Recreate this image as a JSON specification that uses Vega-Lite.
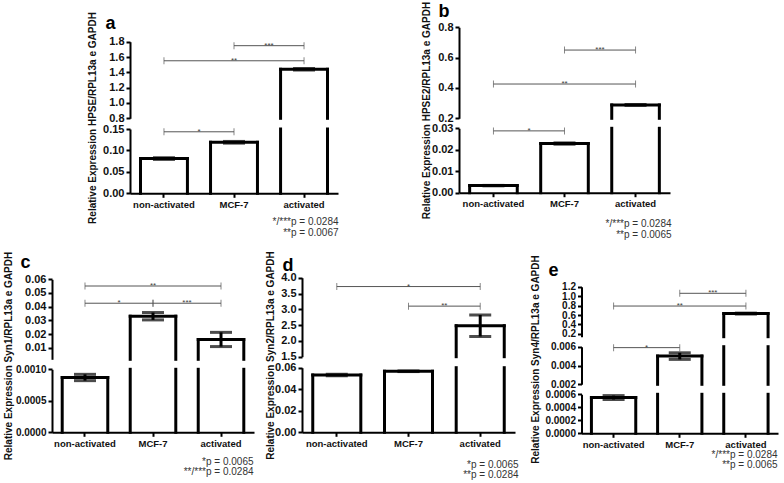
{
"$schema":"https://vega.github.io/schema/vega-lite/v6.json",
"width":784,"height":483,"autosize":{"type":"none"},"padding":0,"background":"white",
"config":{"font":"Liberation Sans","view":{"stroke":null},
 "axis":{"domainColor":"black","domainWidth":2,"tickColor":"black","tickWidth":2,"tickSize":4,"labelColor":"#111","labelFontWeight":"bold","labelFontSize":11,"labelPadding":2,"grid":false,"labelOverlap":false,"labelFlush":false,"titleColor":"#111","titleFontWeight":"bold","titleFontSize":10},
 "axisX":{"labelAngle":0,"labelFontSize":9.5,"titleFontWeight":"normal","titleFontSize":10,"titleColor":"#333"}},
"datasets":{
 "bars":[
  {"panel":"a","group":"non-activated","v":0.081,"err":0.002},
  {"panel":"a","group":"MCF-7","v":0.119,"err":0.002},
  {"panel":"a","group":"activated","v":1.44,"err":0.01},
  {"panel":"b","group":"non-activated","v":0.0033,"err":0.0001},
  {"panel":"b","group":"MCF-7","v":0.0229,"err":0.0003},
  {"panel":"b","group":"activated","v":0.288,"err":0.003},
  {"panel":"c","group":"non-activated","v":0.00087,"err":0.00005},
  {"panel":"c","group":"MCF-7","v":0.033,"err":0.0027},
  {"panel":"c","group":"activated","v":0.016,"err":0.0052},
  {"panel":"d","group":"non-activated","v":0.0532,"err":0.0007},
  {"panel":"d","group":"MCF-7","v":0.0567,"err":0.0003},
  {"panel":"d","group":"activated","v":2.48,"err":0.34},
  {"panel":"e","group":"non-activated","v":0.00055,"err":0.00003},
  {"panel":"e","group":"MCF-7","v":0.005,"err":0.00035},
  {"panel":"e","group":"activated","v":0.63,"err":0.01}
 ],
 "brackets":[
  {"panel":"a","from":"non-activated","to":"MCF-7","y":0.1435,"label":"*"},
  {"panel":"a","from":"non-activated","to":"activated","y":1.551,"label":"**"},
  {"panel":"a","from":"MCF-7","to":"activated","y":1.748,"label":"***"},
  {"panel":"b","from":"non-activated","to":"MCF-7","y":0.0288,"label":"*"},
  {"panel":"b","from":"non-activated","to":"activated","y":0.426,"label":"**"},
  {"panel":"b","from":"MCF-7","to":"activated","y":0.65,"label":"***"},
  {"panel":"c","from":"non-activated","to":"activated","y":0.0551,"label":"**"},
  {"panel":"c","from":"non-activated","to":"MCF-7","y":0.0425,"label":"*"},
  {"panel":"c","from":"MCF-7","to":"activated","y":0.0425,"label":"***"},
  {"panel":"d","from":"non-activated","to":"activated","y":3.72,"label":"*"},
  {"panel":"d","from":"MCF-7","to":"activated","y":3.1,"label":"**"},
  {"panel":"e","from":"MCF-7","to":"activated","y":1.06,"label":"***"},
  {"panel":"e","from":"non-activated","to":"activated","y":0.79,"label":"**"},
  {"panel":"e","from":"non-activated","to":"MCF-7","y":0.0059,"label":"*"}
 ]
},
"resolve":{"scale":{"x":"independent","y":"independent"}},
"layer":[
 {"layer":[
  {"data":{"name":"bars"},"transform":[{"filter":"datum.panel=='a' && datum.v>0.8"}],"mark":{"type":"rule","strokeWidth":3,"color":"black","strokeCap":"square"},
   "encoding":{"x":{"field":"group","type":"nominal","bandPosition":0,"scale":{"type":"band","domain":["non-activated","MCF-7","activated"],"range":[130,338],"paddingInner":0.33,"paddingOuter":0.15},"axis":null},
    "y":{"field":"v","type":"quantitative","scale":{"domain":[0.8,1.8],"range":[118.3,41.7],"clamp":true,"zero":false,"nice":false},
     "axis":{"orient":"left","offset":-130,"values":[0.8,1,1.2,1.4,1.6,1.8],"format":".1f","title":"a","titleAngle":0,"titleAlign":"left","titleBaseline":"alphabetic","titleFontSize":18,"titleColor":"black","titleX":-25,"titleY":28.3}},
    "y2":{"datum":0}}},
  {"data":{"name":"bars"},"transform":[{"filter":"datum.panel=='a' && datum.v>0.8"}],"mark":{"type":"rule","strokeWidth":3,"color":"black","strokeCap":"square"},
   "encoding":{"x":{"field":"group","type":"nominal","bandPosition":1,"scale":{"type":"band"},"axis":null},"y":{"field":"v","type":"quantitative"},"y2":{"datum":0}}},
  {"data":{"name":"bars"},"transform":[{"filter":"datum.panel=='a' && datum.v>=0.8 && datum.v<=1.8"}],"mark":{"type":"rule","strokeWidth":3,"color":"black","strokeCap":"square"},
   "encoding":{"x":{"field":"group","type":"nominal","bandPosition":0,"scale":{"type":"band"},"axis":null},"x2":{"field":"group","bandPosition":1},"y":{"field":"v","type":"quantitative"}}},
  {"data":{"name":"bars"},"transform":[{"filter":"datum.panel=='a' && datum.v>=0.8 && datum.v<=1.8"}],"mark":{"type":"errorbar","thickness":3,"color":"black","ticks":{"size":22,"thickness":3,"color":"black"}},
   "encoding":{"x":{"field":"group","type":"nominal","scale":{"type":"band"},"axis":null},"y":{"field":"v","type":"quantitative","title":"a"},"yError":{"field":"err"}}},
  {"data":{"name":"brackets"},"transform":[{"filter":"datum.panel=='a' && datum.y>=0.8"}],"mark":{"type":"rule","color":"#555","strokeWidth":1},
   "encoding":{"x":{"field":"from","type":"nominal","bandPosition":0.5,"scale":{"type":"band"},"axis":null},"x2":{"field":"to","bandPosition":0.5},"y":{"field":"y","type":"quantitative"}}},
  {"data":{"name":"brackets"},"transform":[{"filter":"datum.panel=='a' && datum.y>=0.8"},{"fold":["from","to"],"as":["end","cat"]}],"mark":{"type":"tick","orient":"vertical","size":7,"thickness":1,"color":"#555"},
   "encoding":{"x":{"field":"cat","type":"nominal","bandPosition":0.5,"scale":{"type":"band"},"axis":null},"y":{"field":"y","type":"quantitative"}}},
  {"data":{"name":"brackets"},"transform":[{"filter":"datum.panel=='a' && datum.y>=0.8 && !(datum.from=='non-activated' && datum.to=='activated')"}],"mark":{"type":"text","fontSize":8,"color":"#444","baseline":"alphabetic","dy":2},
   "encoding":{"x":{"field":"from","type":"nominal","bandPosition":1.246,"scale":{"type":"band"},"axis":null},"y":{"field":"y","type":"quantitative"},"text":{"field":"label"}}},
  {"data":{"name":"brackets"},"transform":[{"filter":"datum.panel=='a' && datum.y>=0.8 && datum.from=='non-activated' && datum.to=='activated'"}],"mark":{"type":"text","fontSize":8,"color":"#444","baseline":"alphabetic","dy":2},
   "encoding":{"x":{"field":"from","type":"nominal","bandPosition":1.993,"scale":{"type":"band"},"axis":null},"y":{"field":"y","type":"quantitative"},"text":{"field":"label"}}}
 ]},
 {"layer":[
  {"data":{"name":"bars"},"transform":[{"filter":"datum.panel=='a'"}],"mark":{"type":"rule","strokeWidth":3,"color":"black","strokeCap":"square"},
   "encoding":{"x":{"field":"group","type":"nominal","bandPosition":0,"scale":{"type":"band","domain":["non-activated","MCF-7","activated"],"range":[130,338],"paddingInner":0.33,"paddingOuter":0.15},
     "axis":{"orient":"bottom","offset":-289.7,"title":["*/***p = 0.0284","**p = 0.0067"],"titleX":338,"titleY":23,"titleAlign":"right","titleBaseline":"top","titleLineHeight":11}},
    "y":{"field":"v","type":"quantitative","scale":{"domain":[0,0.15],"range":[193.3,129],"clamp":true,"zero":false,"nice":false},
     "axis":{"orient":"left","offset":-130,"values":[0,0.05,0.1,0.15],"format":".2f","title":"Relative Expression HPSE/RPL13a e GAPDH","titleAngle":270,"titleAlign":"center","titleBaseline":"middle","titleX":-38,"titleY":117.5}},
    "y2":{"datum":0}}},
  {"data":{"name":"bars"},"transform":[{"filter":"datum.panel=='a'"}],"mark":{"type":"rule","strokeWidth":3,"color":"black","strokeCap":"square"},
   "encoding":{"x":{"field":"group","type":"nominal","bandPosition":1,"scale":{"type":"band"}},"y":{"field":"v","type":"quantitative"},"y2":{"datum":0}}},
  {"data":{"name":"bars"},"transform":[{"filter":"datum.panel=='a' && datum.v<=0.15"}],"mark":{"type":"rule","strokeWidth":3,"color":"black","strokeCap":"square"},
   "encoding":{"x":{"field":"group","type":"nominal","bandPosition":0,"scale":{"type":"band"}},"x2":{"field":"group","bandPosition":1},"y":{"field":"v","type":"quantitative"}}},
  {"data":{"name":"bars"},"transform":[{"filter":"datum.panel=='a' && datum.v<=0.15"}],"mark":{"type":"errorbar","thickness":3,"color":"black","ticks":{"size":22,"thickness":3,"color":"black"}},
   "encoding":{"x":{"field":"group","type":"nominal","scale":{"type":"band"}},"y":{"field":"v","type":"quantitative","title":"Relative Expression HPSE/RPL13a e GAPDH"},"yError":{"field":"err"}}},
  {"data":{"name":"brackets"},"transform":[{"filter":"datum.panel=='a' && datum.y<=0.15"}],"mark":{"type":"rule","color":"#555","strokeWidth":1},
   "encoding":{"x":{"field":"from","type":"nominal","bandPosition":0.5,"scale":{"type":"band"}},"x2":{"field":"to","bandPosition":0.5},"y":{"field":"y","type":"quantitative"}}},
  {"data":{"name":"brackets"},"transform":[{"filter":"datum.panel=='a' && datum.y<=0.15"},{"fold":["from","to"],"as":["end","cat"]}],"mark":{"type":"tick","orient":"vertical","size":7,"thickness":1,"color":"#555"},
   "encoding":{"x":{"field":"cat","type":"nominal","bandPosition":0.5,"scale":{"type":"band"}},"y":{"field":"y","type":"quantitative"}}},
  {"data":{"name":"brackets"},"transform":[{"filter":"datum.panel=='a' && datum.y<=0.15"}],"mark":{"type":"text","fontSize":8,"color":"#444","baseline":"alphabetic","dy":2},
   "encoding":{"x":{"field":"from","type":"nominal","bandPosition":1.246,"scale":{"type":"band"}},"y":{"field":"y","type":"quantitative"},"text":{"field":"label"}}}
 ]},
 {"layer":[
  {"data":{"name":"bars"},"transform":[{"filter":"datum.panel=='b' && datum.v>0.2"}],"mark":{"type":"rule","strokeWidth":3,"color":"black","strokeCap":"square"},
   "encoding":{"x":{"field":"group","type":"nominal","bandPosition":0,"scale":{"type":"band","domain":["non-activated","MCF-7","activated"],"range":[459,670],"paddingInner":0.33,"paddingOuter":0.15},"axis":null},
    "y":{"field":"v","type":"quantitative","scale":{"domain":[0.2,0.8],"range":[118.3,27.3],"clamp":true,"zero":false,"nice":false},
     "axis":{"orient":"left","offset":-459,"values":[0.2,0.4,0.6,0.8],"format":".1f","title":"b","titleAngle":0,"titleAlign":"left","titleBaseline":"alphabetic","titleFontSize":18,"titleColor":"black","titleX":-21,"titleY":16.7}},
    "y2":{"datum":0}}},
  {"data":{"name":"bars"},"transform":[{"filter":"datum.panel=='b' && datum.v>0.2"}],"mark":{"type":"rule","strokeWidth":3,"color":"black","strokeCap":"square"},
   "encoding":{"x":{"field":"group","type":"nominal","bandPosition":1,"scale":{"type":"band"},"axis":null},"y":{"field":"v","type":"quantitative"},"y2":{"datum":0}}},
  {"data":{"name":"bars"},"transform":[{"filter":"datum.panel=='b' && datum.v>=0.2 && datum.v<=0.8"}],"mark":{"type":"rule","strokeWidth":3,"color":"black","strokeCap":"square"},
   "encoding":{"x":{"field":"group","type":"nominal","bandPosition":0,"scale":{"type":"band"},"axis":null},"x2":{"field":"group","bandPosition":1},"y":{"field":"v","type":"quantitative"}}},
  {"data":{"name":"bars"},"transform":[{"filter":"datum.panel=='b' && datum.v>=0.2 && datum.v<=0.8"}],"mark":{"type":"errorbar","thickness":3,"color":"black","ticks":{"size":22,"thickness":3,"color":"black"}},
   "encoding":{"x":{"field":"group","type":"nominal","scale":{"type":"band"},"axis":null},"y":{"field":"v","type":"quantitative","title":"b"},"yError":{"field":"err"}}},
  {"data":{"name":"brackets"},"transform":[{"filter":"datum.panel=='b' && datum.y>=0.2"}],"mark":{"type":"rule","color":"#555","strokeWidth":1},
   "encoding":{"x":{"field":"from","type":"nominal","bandPosition":0.5,"scale":{"type":"band"},"axis":null},"x2":{"field":"to","bandPosition":0.5},"y":{"field":"y","type":"quantitative"}}},
  {"data":{"name":"brackets"},"transform":[{"filter":"datum.panel=='b' && datum.y>=0.2"},{"fold":["from","to"],"as":["end","cat"]}],"mark":{"type":"tick","orient":"vertical","size":7,"thickness":1,"color":"#555"},
   "encoding":{"x":{"field":"cat","type":"nominal","bandPosition":0.5,"scale":{"type":"band"},"axis":null},"y":{"field":"y","type":"quantitative"}}},
  {"data":{"name":"brackets"},"transform":[{"filter":"datum.panel=='b' && datum.y>=0.2 && !(datum.from=='non-activated' && datum.to=='activated')"}],"mark":{"type":"text","fontSize":8,"color":"#444","baseline":"alphabetic","dy":2},
   "encoding":{"x":{"field":"from","type":"nominal","bandPosition":1.246,"scale":{"type":"band"},"axis":null},"y":{"field":"y","type":"quantitative"},"text":{"field":"label"}}},
  {"data":{"name":"brackets"},"transform":[{"filter":"datum.panel=='b' && datum.y>=0.2 && datum.from=='non-activated' && datum.to=='activated'"}],"mark":{"type":"text","fontSize":8,"color":"#444","baseline":"alphabetic","dy":2},
   "encoding":{"x":{"field":"from","type":"nominal","bandPosition":1.993,"scale":{"type":"band"},"axis":null},"y":{"field":"y","type":"quantitative"},"text":{"field":"label"}}}
 ]},
 {"layer":[
  {"data":{"name":"bars"},"transform":[{"filter":"datum.panel=='b'"}],"mark":{"type":"rule","strokeWidth":3,"color":"black","strokeCap":"square"},
   "encoding":{"x":{"field":"group","type":"nominal","bandPosition":0,"scale":{"type":"band","domain":["non-activated","MCF-7","activated"],"range":[459,670],"paddingInner":0.33,"paddingOuter":0.15},
     "axis":{"orient":"bottom","offset":-290.3,"title":["*/***p = 0.0284","**p = 0.0065"],"titleX":671,"titleY":25.8,"titleAlign":"right","titleBaseline":"top","titleLineHeight":10.5}},
    "y":{"field":"v","type":"quantitative","scale":{"domain":[0,0.03],"range":[192.7,128.3],"clamp":true,"zero":false,"nice":false},
     "axis":{"orient":"left","offset":-459,"values":[0,0.01,0.02,0.03],"format":".2f","title":"Relative Expression HPSE2/RPL13a e GAPDH","titleAngle":270,"titleAlign":"center","titleBaseline":"middle","titleX":-33,"titleY":110}},
    "y2":{"datum":0}}},
  {"data":{"name":"bars"},"transform":[{"filter":"datum.panel=='b'"}],"mark":{"type":"rule","strokeWidth":3,"color":"black","strokeCap":"square"},
   "encoding":{"x":{"field":"group","type":"nominal","bandPosition":1,"scale":{"type":"band"}},"y":{"field":"v","type":"quantitative"},"y2":{"datum":0}}},
  {"data":{"name":"bars"},"transform":[{"filter":"datum.panel=='b' && datum.v<=0.03"}],"mark":{"type":"rule","strokeWidth":3,"color":"black","strokeCap":"square"},
   "encoding":{"x":{"field":"group","type":"nominal","bandPosition":0,"scale":{"type":"band"}},"x2":{"field":"group","bandPosition":1},"y":{"field":"v","type":"quantitative"}}},
  {"data":{"name":"bars"},"transform":[{"filter":"datum.panel=='b' && datum.v<=0.03"}],"mark":{"type":"errorbar","thickness":3,"color":"black","ticks":{"size":22,"thickness":3,"color":"black"}},
   "encoding":{"x":{"field":"group","type":"nominal","scale":{"type":"band"}},"y":{"field":"v","type":"quantitative","title":"Relative Expression HPSE2/RPL13a e GAPDH"},"yError":{"field":"err"}}},
  {"data":{"name":"brackets"},"transform":[{"filter":"datum.panel=='b' && datum.y<=0.03"}],"mark":{"type":"rule","color":"#555","strokeWidth":1},
   "encoding":{"x":{"field":"from","type":"nominal","bandPosition":0.5,"scale":{"type":"band"}},"x2":{"field":"to","bandPosition":0.5},"y":{"field":"y","type":"quantitative"}}},
  {"data":{"name":"brackets"},"transform":[{"filter":"datum.panel=='b' && datum.y<=0.03"},{"fold":["from","to"],"as":["end","cat"]}],"mark":{"type":"tick","orient":"vertical","size":7,"thickness":1,"color":"#555"},
   "encoding":{"x":{"field":"cat","type":"nominal","bandPosition":0.5,"scale":{"type":"band"}},"y":{"field":"y","type":"quantitative"}}},
  {"data":{"name":"brackets"},"transform":[{"filter":"datum.panel=='b' && datum.y<=0.03"}],"mark":{"type":"text","fontSize":8,"color":"#444","baseline":"alphabetic","dy":2},
   "encoding":{"x":{"field":"from","type":"nominal","bandPosition":1.246,"scale":{"type":"band"}},"y":{"field":"y","type":"quantitative"},"text":{"field":"label"}}}
 ]},
 {"layer":[
  {"data":{"name":"bars"},"transform":[{"filter":"datum.panel=='c' && datum.v>0.0015"}],"mark":{"type":"rule","strokeWidth":3,"color":"black","strokeCap":"square"},
   "encoding":{"x":{"field":"group","type":"nominal","bandPosition":0,"scale":{"type":"band","domain":["non-activated","MCF-7","activated"],"range":[52,254],"paddingInner":0.33,"paddingOuter":0.15},"axis":null},
    "y":{"field":"v","type":"quantitative","scale":{"domain":[0.0015,0.06],"range":[359.3,279.3],"clamp":true,"zero":false,"nice":false},
     "axis":{"orient":"left","offset":-52,"values":[0.01,0.02,0.03,0.04,0.05,0.06],"format":".2f","title":"c","titleAngle":0,"titleAlign":"left","titleBaseline":"alphabetic","titleFontSize":18,"titleColor":"black","titleX":-32,"titleY":267}},
    "y2":{"datum":0}}},
  {"data":{"name":"bars"},"transform":[{"filter":"datum.panel=='c' && datum.v>0.0015"}],"mark":{"type":"rule","strokeWidth":3,"color":"black","strokeCap":"square"},
   "encoding":{"x":{"field":"group","type":"nominal","bandPosition":1,"scale":{"type":"band"},"axis":null},"y":{"field":"v","type":"quantitative"},"y2":{"datum":0}}},
  {"data":{"name":"bars"},"transform":[{"filter":"datum.panel=='c' && datum.v>=0.0015"}],"mark":{"type":"rule","strokeWidth":3,"color":"black","strokeCap":"square"},
   "encoding":{"x":{"field":"group","type":"nominal","bandPosition":0,"scale":{"type":"band"},"axis":null},"x2":{"field":"group","bandPosition":1},"y":{"field":"v","type":"quantitative"}}},
  {"data":{"name":"bars"},"transform":[{"filter":"datum.panel=='c' && datum.v>=0.0015"}],"mark":{"type":"errorbar","thickness":3,"color":"black","ticks":{"size":22,"thickness":3,"color":"black"}},
   "encoding":{"x":{"field":"group","type":"nominal","scale":{"type":"band"},"axis":null},"y":{"field":"v","type":"quantitative","title":"c"},"yError":{"field":"err"}}},
  {"data":{"name":"brackets"},"transform":[{"filter":"datum.panel=='c'"}],"mark":{"type":"rule","color":"#555","strokeWidth":1},
   "encoding":{"x":{"field":"from","type":"nominal","bandPosition":0.5,"scale":{"type":"band"},"axis":null},"x2":{"field":"to","bandPosition":0.5},"y":{"field":"y","type":"quantitative"}}},
  {"data":{"name":"brackets"},"transform":[{"filter":"datum.panel=='c'"},{"fold":["from","to"],"as":["end","cat"]}],"mark":{"type":"tick","orient":"vertical","size":7,"thickness":1,"color":"#555"},
   "encoding":{"x":{"field":"cat","type":"nominal","bandPosition":0.5,"scale":{"type":"band"},"axis":null},"y":{"field":"y","type":"quantitative"}}},
  {"data":{"name":"brackets"},"transform":[{"filter":"datum.panel=='c' && !(datum.from=='non-activated' && datum.to=='activated')"}],"mark":{"type":"text","fontSize":8,"color":"#444","baseline":"alphabetic","dy":2},
   "encoding":{"x":{"field":"from","type":"nominal","bandPosition":1.246,"scale":{"type":"band"},"axis":null},"y":{"field":"y","type":"quantitative"},"text":{"field":"label"}}},
  {"data":{"name":"brackets"},"transform":[{"filter":"datum.panel=='c' && datum.from=='non-activated' && datum.to=='activated'"}],"mark":{"type":"text","fontSize":8,"color":"#444","baseline":"alphabetic","dy":2},
   "encoding":{"x":{"field":"from","type":"nominal","bandPosition":1.993,"scale":{"type":"band"},"axis":null},"y":{"field":"y","type":"quantitative"},"text":{"field":"label"}}}
 ]},
 {"layer":[
  {"data":{"name":"bars"},"transform":[{"filter":"datum.panel=='c'"}],"mark":{"type":"rule","strokeWidth":3,"color":"black","strokeCap":"square"},
   "encoding":{"x":{"field":"group","type":"nominal","bandPosition":0,"scale":{"type":"band","domain":["non-activated","MCF-7","activated"],"range":[52,254],"paddingInner":0.33,"paddingOuter":0.15},
     "axis":{"orient":"bottom","offset":-50.7,"title":["*p = 0.0065","**/***p = 0.0284"],"titleX":253,"titleY":23.7,"titleAlign":"right","titleBaseline":"top","titleLineHeight":10.5}},
    "y":{"field":"v","type":"quantitative","scale":{"domain":[0,0.001],"range":[432.3,369.3],"clamp":true,"zero":false,"nice":false},
     "axis":{"orient":"left","offset":-52,"values":[0,0.0005,0.001],"format":".4f","labelFontSize":10,"title":"Relative Expression Syn1/RPL13a e GAPDH","titleAngle":270,"titleAlign":"center","titleBaseline":"middle","titleX":-43.7,"titleY":355.5}},
    "y2":{"datum":0}}},
  {"data":{"name":"bars"},"transform":[{"filter":"datum.panel=='c'"}],"mark":{"type":"rule","strokeWidth":3,"color":"black","strokeCap":"square"},
   "encoding":{"x":{"field":"group","type":"nominal","bandPosition":1,"scale":{"type":"band"}},"y":{"field":"v","type":"quantitative"},"y2":{"datum":0}}},
  {"data":{"name":"bars"},"transform":[{"filter":"datum.panel=='c' && datum.v<=0.001"}],"mark":{"type":"rule","strokeWidth":3,"color":"black","strokeCap":"square"},
   "encoding":{"x":{"field":"group","type":"nominal","bandPosition":0,"scale":{"type":"band"}},"x2":{"field":"group","bandPosition":1},"y":{"field":"v","type":"quantitative"}}},
  {"data":{"name":"bars"},"transform":[{"filter":"datum.panel=='c' && datum.v<=0.001"}],"mark":{"type":"errorbar","thickness":3,"color":"black","ticks":{"size":22,"thickness":3,"color":"black"}},
   "encoding":{"x":{"field":"group","type":"nominal","scale":{"type":"band"}},"y":{"field":"v","type":"quantitative","title":"Relative Expression Syn1/RPL13a e GAPDH"},"yError":{"field":"err"}}}
 ]},
 {"layer":[
  {"data":{"name":"bars"},"transform":[{"filter":"datum.panel=='d' && datum.v>1.5"}],"mark":{"type":"rule","strokeWidth":3,"color":"black","strokeCap":"square"},
   "encoding":{"x":{"field":"group","type":"nominal","bandPosition":0,"scale":{"type":"band","domain":["non-activated","MCF-7","activated"],"range":[302,515],"paddingInner":0.33,"paddingOuter":0.15},"axis":null},
    "y":{"field":"v","type":"quantitative","scale":{"domain":[1.5,4],"range":[356.7,277.7],"clamp":true,"zero":false,"nice":false},
     "axis":{"orient":"left","offset":-302,"values":[1.5,2,2.5,3,3.5,4],"format":".1f","title":"d","titleAngle":0,"titleAlign":"left","titleBaseline":"alphabetic","titleFontSize":18,"titleColor":"black","titleX":-20,"titleY":270}},
    "y2":{"datum":0}}},
  {"data":{"name":"bars"},"transform":[{"filter":"datum.panel=='d' && datum.v>1.5"}],"mark":{"type":"rule","strokeWidth":3,"color":"black","strokeCap":"square"},
   "encoding":{"x":{"field":"group","type":"nominal","bandPosition":1,"scale":{"type":"band"},"axis":null},"y":{"field":"v","type":"quantitative"},"y2":{"datum":0}}},
  {"data":{"name":"bars"},"transform":[{"filter":"datum.panel=='d' && datum.v>=1.5"}],"mark":{"type":"rule","strokeWidth":3,"color":"black","strokeCap":"square"},
   "encoding":{"x":{"field":"group","type":"nominal","bandPosition":0,"scale":{"type":"band"},"axis":null},"x2":{"field":"group","bandPosition":1},"y":{"field":"v","type":"quantitative"}}},
  {"data":{"name":"bars"},"transform":[{"filter":"datum.panel=='d' && datum.v>=1.5"}],"mark":{"type":"errorbar","thickness":3,"color":"black","ticks":{"size":22,"thickness":3,"color":"black"}},
   "encoding":{"x":{"field":"group","type":"nominal","scale":{"type":"band"},"axis":null},"y":{"field":"v","type":"quantitative","title":"d"},"yError":{"field":"err"}}},
  {"data":{"name":"brackets"},"transform":[{"filter":"datum.panel=='d'"}],"mark":{"type":"rule","color":"#555","strokeWidth":1},
   "encoding":{"x":{"field":"from","type":"nominal","bandPosition":0.5,"scale":{"type":"band"},"axis":null},"x2":{"field":"to","bandPosition":0.5},"y":{"field":"y","type":"quantitative"}}},
  {"data":{"name":"brackets"},"transform":[{"filter":"datum.panel=='d'"},{"fold":["from","to"],"as":["end","cat"]}],"mark":{"type":"tick","orient":"vertical","size":7,"thickness":1,"color":"#555"},
   "encoding":{"x":{"field":"cat","type":"nominal","bandPosition":0.5,"scale":{"type":"band"},"axis":null},"y":{"field":"y","type":"quantitative"}}},
  {"data":{"name":"brackets"},"transform":[{"filter":"datum.panel=='d' && !(datum.from=='non-activated' && datum.to=='activated')"}],"mark":{"type":"text","fontSize":8,"color":"#444","baseline":"alphabetic","dy":2},
   "encoding":{"x":{"field":"from","type":"nominal","bandPosition":1.246,"scale":{"type":"band"},"axis":null},"y":{"field":"y","type":"quantitative"},"text":{"field":"label"}}},
  {"data":{"name":"brackets"},"transform":[{"filter":"datum.panel=='d' && datum.from=='non-activated' && datum.to=='activated'"}],"mark":{"type":"text","fontSize":8,"color":"#444","baseline":"alphabetic","dy":2},
   "encoding":{"x":{"field":"from","type":"nominal","bandPosition":1.993,"scale":{"type":"band"},"axis":null},"y":{"field":"y","type":"quantitative"},"text":{"field":"label"}}}
 ]},
 {"layer":[
  {"data":{"name":"bars"},"transform":[{"filter":"datum.panel=='d'"}],"mark":{"type":"rule","strokeWidth":3,"color":"black","strokeCap":"square"},
   "encoding":{"x":{"field":"group","type":"nominal","bandPosition":0,"scale":{"type":"band","domain":["non-activated","MCF-7","activated"],"range":[302,515],"paddingInner":0.33,"paddingOuter":0.15},
     "axis":{"orient":"bottom","offset":-50.7,"title":["*p = 0.0065","**p = 0.0284"],"titleX":518,"titleY":26.7,"titleAlign":"right","titleBaseline":"top","titleLineHeight":10.5}},
    "y":{"field":"v","type":"quantitative","scale":{"domain":[0,0.06],"range":[432.3,367.7],"clamp":true,"zero":false,"nice":false},
     "axis":{"orient":"left","offset":-302,"values":[0,0.02,0.04,0.06],"format":".2f","title":"Relative Expression Syn2/RPL13a e GAPDH","titleAngle":270,"titleAlign":"center","titleBaseline":"middle","titleX":-32,"titleY":355}},
    "y2":{"datum":0}}},
  {"data":{"name":"bars"},"transform":[{"filter":"datum.panel=='d'"}],"mark":{"type":"rule","strokeWidth":3,"color":"black","strokeCap":"square"},
   "encoding":{"x":{"field":"group","type":"nominal","bandPosition":1,"scale":{"type":"band"}},"y":{"field":"v","type":"quantitative"},"y2":{"datum":0}}},
  {"data":{"name":"bars"},"transform":[{"filter":"datum.panel=='d' && datum.v<=0.06"}],"mark":{"type":"rule","strokeWidth":3,"color":"black","strokeCap":"square"},
   "encoding":{"x":{"field":"group","type":"nominal","bandPosition":0,"scale":{"type":"band"}},"x2":{"field":"group","bandPosition":1},"y":{"field":"v","type":"quantitative"}}},
  {"data":{"name":"bars"},"transform":[{"filter":"datum.panel=='d' && datum.v<=0.06"}],"mark":{"type":"errorbar","thickness":3,"color":"black","ticks":{"size":22,"thickness":3,"color":"black"}},
   "encoding":{"x":{"field":"group","type":"nominal","scale":{"type":"band"}},"y":{"field":"v","type":"quantitative","title":"Relative Expression Syn2/RPL13a e GAPDH"},"yError":{"field":"err"}}}
 ]},
 {"layer":[
  {"data":{"name":"bars"},"transform":[{"filter":"datum.panel=='e' && datum.v>0.14"}],"mark":{"type":"rule","strokeWidth":3,"color":"black","strokeCap":"square"},
   "encoding":{"x":{"field":"group","type":"nominal","bandPosition":0,"scale":{"type":"band","domain":["non-activated","MCF-7","activated"],"range":[581.5,778],"paddingInner":0.33,"paddingOuter":0.15},"axis":null},
    "y":{"field":"v","type":"quantitative","scale":{"domain":[0.14,1.2],"range":[336.7,286.7],"clamp":true,"zero":false,"nice":false},
     "axis":{"orient":"left","offset":-581.5,"values":[0.2,0.4,0.6,0.8,1,1.2],"format":".1f","labelFontSize":10,"title":"e","titleAngle":0,"titleAlign":"left","titleBaseline":"alphabetic","titleFontSize":18,"titleColor":"black","titleX":-33.5,"titleY":275}},
    "y2":{"datum":0}}},
  {"data":{"name":"bars"},"transform":[{"filter":"datum.panel=='e' && datum.v>0.14"}],"mark":{"type":"rule","strokeWidth":3,"color":"black","strokeCap":"square"},
   "encoding":{"x":{"field":"group","type":"nominal","bandPosition":1,"scale":{"type":"band"},"axis":null},"y":{"field":"v","type":"quantitative"},"y2":{"datum":0}}},
  {"data":{"name":"bars"},"transform":[{"filter":"datum.panel=='e' && datum.v>=0.14"}],"mark":{"type":"rule","strokeWidth":3,"color":"black","strokeCap":"square"},
   "encoding":{"x":{"field":"group","type":"nominal","bandPosition":0,"scale":{"type":"band"},"axis":null},"x2":{"field":"group","bandPosition":1},"y":{"field":"v","type":"quantitative"}}},
  {"data":{"name":"bars"},"transform":[{"filter":"datum.panel=='e' && datum.v>=0.14"}],"mark":{"type":"errorbar","thickness":3,"color":"black","ticks":{"size":22,"thickness":3,"color":"black"}},
   "encoding":{"x":{"field":"group","type":"nominal","scale":{"type":"band"},"axis":null},"y":{"field":"v","type":"quantitative","title":"e"},"yError":{"field":"err"}}},
  {"data":{"name":"brackets"},"transform":[{"filter":"datum.panel=='e' && datum.y>=0.14"}],"mark":{"type":"rule","color":"#555","strokeWidth":1},
   "encoding":{"x":{"field":"from","type":"nominal","bandPosition":0.5,"scale":{"type":"band"},"axis":null},"x2":{"field":"to","bandPosition":0.5},"y":{"field":"y","type":"quantitative"}}},
  {"data":{"name":"brackets"},"transform":[{"filter":"datum.panel=='e' && datum.y>=0.14"},{"fold":["from","to"],"as":["end","cat"]}],"mark":{"type":"tick","orient":"vertical","size":7,"thickness":1,"color":"#555"},
   "encoding":{"x":{"field":"cat","type":"nominal","bandPosition":0.5,"scale":{"type":"band"},"axis":null},"y":{"field":"y","type":"quantitative"}}},
  {"data":{"name":"brackets"},"transform":[{"filter":"datum.panel=='e' && datum.y>=0.14 && !(datum.from=='non-activated' && datum.to=='activated')"}],"mark":{"type":"text","fontSize":8,"color":"#444","baseline":"alphabetic","dy":2},
   "encoding":{"x":{"field":"from","type":"nominal","bandPosition":1.246,"scale":{"type":"band"},"axis":null},"y":{"field":"y","type":"quantitative"},"text":{"field":"label"}}},
  {"data":{"name":"brackets"},"transform":[{"filter":"datum.panel=='e' && datum.y>=0.14 && datum.from=='non-activated' && datum.to=='activated'"}],"mark":{"type":"text","fontSize":8,"color":"#444","baseline":"alphabetic","dy":2},
   "encoding":{"x":{"field":"from","type":"nominal","bandPosition":1.993,"scale":{"type":"band"},"axis":null},"y":{"field":"y","type":"quantitative"},"text":{"field":"label"}}}
 ]},
 {"layer":[
  {"data":{"name":"bars"},"transform":[{"filter":"datum.panel=='e' && datum.v>0.002"}],"mark":{"type":"rule","strokeWidth":3,"color":"black","strokeCap":"square"},
   "encoding":{"x":{"field":"group","type":"nominal","bandPosition":0,"scale":{"type":"band","domain":["non-activated","MCF-7","activated"],"range":[581.5,778],"paddingInner":0.33,"paddingOuter":0.15},"axis":null},
    "y":{"field":"v","type":"quantitative","scale":{"domain":[0.002,0.006],"range":[384.3,346.7],"clamp":true,"zero":false,"nice":false},
     "axis":{"orient":"left","offset":-581.5,"values":[0.002,0.004,0.006],"format":".3f","labelFontSize":10,"title":null}},
    "y2":{"datum":0}}},
  {"data":{"name":"bars"},"transform":[{"filter":"datum.panel=='e' && datum.v>0.002"}],"mark":{"type":"rule","strokeWidth":3,"color":"black","strokeCap":"square"},
   "encoding":{"x":{"field":"group","type":"nominal","bandPosition":1,"scale":{"type":"band"},"axis":null},"y":{"field":"v","type":"quantitative"},"y2":{"datum":0}}},
  {"data":{"name":"bars"},"transform":[{"filter":"datum.panel=='e' && datum.v>=0.002 && datum.v<=0.006"}],"mark":{"type":"rule","strokeWidth":3,"color":"black","strokeCap":"square"},
   "encoding":{"x":{"field":"group","type":"nominal","bandPosition":0,"scale":{"type":"band"},"axis":null},"x2":{"field":"group","bandPosition":1},"y":{"field":"v","type":"quantitative"}}},
  {"data":{"name":"bars"},"transform":[{"filter":"datum.panel=='e' && datum.v>=0.002 && datum.v<=0.006"}],"mark":{"type":"errorbar","thickness":3,"color":"black","ticks":{"size":22,"thickness":3,"color":"black"}},
   "encoding":{"x":{"field":"group","type":"nominal","scale":{"type":"band"},"axis":null},"y":{"field":"v","type":"quantitative","title":null},"yError":{"field":"err"}}},
  {"data":{"name":"brackets"},"transform":[{"filter":"datum.panel=='e' && datum.y<=0.006"}],"mark":{"type":"rule","color":"#555","strokeWidth":1},
   "encoding":{"x":{"field":"from","type":"nominal","bandPosition":0.5,"scale":{"type":"band"},"axis":null},"x2":{"field":"to","bandPosition":0.5},"y":{"field":"y","type":"quantitative"}}},
  {"data":{"name":"brackets"},"transform":[{"filter":"datum.panel=='e' && datum.y<=0.006"},{"fold":["from","to"],"as":["end","cat"]}],"mark":{"type":"tick","orient":"vertical","size":7,"thickness":1,"color":"#555"},
   "encoding":{"x":{"field":"cat","type":"nominal","bandPosition":0.5,"scale":{"type":"band"},"axis":null},"y":{"field":"y","type":"quantitative"}}},
  {"data":{"name":"brackets"},"transform":[{"filter":"datum.panel=='e' && datum.y<=0.006"}],"mark":{"type":"text","fontSize":8,"color":"#444","baseline":"alphabetic","dy":2},
   "encoding":{"x":{"field":"from","type":"nominal","bandPosition":1.246,"scale":{"type":"band"},"axis":null},"y":{"field":"y","type":"quantitative"},"text":{"field":"label"}}}
 ]},
 {"layer":[
  {"data":{"name":"bars"},"transform":[{"filter":"datum.panel=='e'"}],"mark":{"type":"rule","strokeWidth":3,"color":"black","strokeCap":"square"},
   "encoding":{"x":{"field":"group","type":"nominal","bandPosition":0,"scale":{"type":"band","domain":["non-activated","MCF-7","activated"],"range":[581.5,778],"paddingInner":0.33,"paddingOuter":0.15},
     "axis":{"orient":"bottom","offset":-49.7,"title":["*/***p = 0.0284","**p = 0.0065"],"titleX":777,"titleY":16,"titleAlign":"right","titleBaseline":"top","titleLineHeight":10}},
    "y":{"field":"v","type":"quantitative","scale":{"domain":[0,0.0006],"range":[433.3,394.3],"clamp":true,"zero":false,"nice":false},
     "axis":{"orient":"left","offset":-581.5,"values":[0,0.0002,0.0004,0.0006],"format":".4f","labelFontSize":10,"title":"Relative Expression Syn4/RPL13a e GAPDH","titleAngle":270,"titleAlign":"center","titleBaseline":"middle","titleX":-45.7,"titleY":359}},
    "y2":{"datum":0}}},
  {"data":{"name":"bars"},"transform":[{"filter":"datum.panel=='e'"}],"mark":{"type":"rule","strokeWidth":3,"color":"black","strokeCap":"square"},
   "encoding":{"x":{"field":"group","type":"nominal","bandPosition":1,"scale":{"type":"band"}},"y":{"field":"v","type":"quantitative"},"y2":{"datum":0}}},
  {"data":{"name":"bars"},"transform":[{"filter":"datum.panel=='e' && datum.v<=0.0006"}],"mark":{"type":"rule","strokeWidth":3,"color":"black","strokeCap":"square"},
   "encoding":{"x":{"field":"group","type":"nominal","bandPosition":0,"scale":{"type":"band"}},"x2":{"field":"group","bandPosition":1},"y":{"field":"v","type":"quantitative"}}},
  {"data":{"name":"bars"},"transform":[{"filter":"datum.panel=='e' && datum.v<=0.0006"}],"mark":{"type":"errorbar","thickness":3,"color":"black","ticks":{"size":22,"thickness":3,"color":"black"}},
   "encoding":{"x":{"field":"group","type":"nominal","scale":{"type":"band"}},"y":{"field":"v","type":"quantitative","title":"Relative Expression Syn4/RPL13a e GAPDH"},"yError":{"field":"err"}}}
 ]}
]
}
